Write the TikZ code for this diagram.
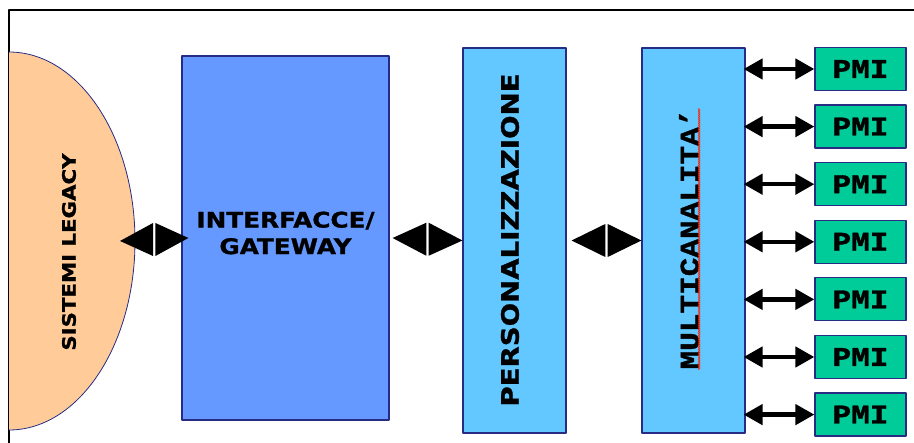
\documentclass[tikz,border=0pt]{standalone}
\usepackage{fontspec}
\usetikzlibrary{arrows.meta,calc,decorations.pathmorphing}
\newfontfamily\verdana{DejaVu Sans}[FakeStretch=1.15,BoldFeatures={FakeBold=1.2}]
\newfontfamily\consolle{Liberation Mono}[FakeStretch=1.15,BoldFeatures={FakeBold=1.2}]
\begin{document}
\begin{tikzpicture}[x=1pt,y=-1pt,line join=round]
		%\draw[gray!30] (0,0) grid[step=50] (914,443);
		\definecolor{pesca}{RGB}{255,204,153}
		\definecolor{bluastro}{RGB}{102,153,255}
		\definecolor{celeste}{RGB}{99,200,255}
		\definecolor{verdeacqua}{RGB}{0,204,153}
		\definecolor{bordo}{RGB}{38,44,132}
		\tikzset{
			blocco/.style={draw=bordo,line width=1.2pt,inner sep=0pt},
			scritta/.style={font=\verdana\bfseries\fontsize{#1}{#1}\selectfont,inner sep=0pt},
			piccola/.style={{Triangle[length=19pt,width=20pt]}-{Triangle[length=19pt,width=20pt]},line width=4.5pt,shorten <=-2pt},
			pmi/.style={blocco,fill=verdeacqua,minimum width=91pt,minimum height=43pt,
				font=\consolle\bfseries\fontsize{27}{27}\selectfont}
		}
		% doppia freccia grossa, spezzata a meta'
		\def\freccia#1#2{
			\fill (#1)--($(#1)!.5!(#2)+(-1.2,16.5)$)--($(#1)!.5!(#2)+(-1.2,-16.5)$)--cycle;
			\fill (#2)--($(#1)!.5!(#2)+(1.2,16.5)$)--($(#1)!.5!(#2)+(1.2,-16.5)$)--cycle;
		}
		\useasboundingbox (0,0) rectangle (914,443);
		\draw[line width=2.4pt] (9,443)--(9,10)--(914,10);
		
		% sistemi legacy
		\draw[bordo,fill=pesca,line width=.8pt] (9,52) arc[start angle=-90,end angle=90,x radius=126,y radius=189];
		\coordinate (legacy) at (135,241);
		\node[scritta=18.5,rotate=90] (sistemi) at (69,252) {SISTEMI LEGACY};
		
		\node[blocco,fill=bluastro,minimum width=207pt,minimum height=364pt] (iface) at (285.5,238) {};
		\node[scritta=21.5,align=center] (ifacetxt) at (285.5,233) {INTERFACCE/\\[5pt]GATEWAY};
		
		\node[blocco,fill=celeste,minimum width=103pt,minimum height=385pt] (persona) at (514.5,240.5) {};
		\node[scritta=24,rotate=90] (personatxt) at (510,240) {PERSONALIZZAZIONE};
		
		\node[blocco,fill=celeste,minimum width=103pt,minimum height=385pt] (multi) at (693.5,240.5) {};
		\node[font=\consolle\bfseries\fontsize{27}{27}\selectfont,inner sep=0pt,rotate=90] (multitxt) at (689,239) {MULTICANALITA’};
		\draw[red!75!orange,line width=.6pt,decorate,decoration={zigzag,segment length=2pt,amplitude=1pt}]
		(multitxt.south west)--(multitxt.south east);
		
		\coordinate (a1) at ([xshift=-15pt]legacy);
		\coordinate (b1) at ([xshift=7pt]iface.west);
		\coordinate (a2) at ([xshift=3pt]iface.east);
		\coordinate (b2) at (persona.west);
		\coordinate (a3) at ([xshift=5pt]persona.east);
		\coordinate (b3) at (multi.west);
		\freccia{a1}{b1}
		\freccia{a2}{b2}
		\freccia{a3}{b3}
		
		% PMI
		\node[pmi] (pmi1) at (860.5,69) {PMI};
		\node[pmi] (pmi2) at (860.5,126.6) {PMI};
		\node[pmi] (pmi3) at (860.5,184.2) {PMI};
		\node[pmi] (pmi4) at (860.5,241.8) {PMI};
		\node[pmi] (pmi5) at (860.5,299.4) {PMI};
		\node[pmi] (pmi6) at (860.5,357) {PMI};
		\node[pmi] (pmi7) at (860.5,414.6) {PMI};
		\draw[piccola] (multi.east|-pmi1.west)--(pmi1.west);
		\draw[piccola] (multi.east|-pmi2.west)--(pmi2.west);
		\draw[piccola] (multi.east|-pmi3.west)--(pmi3.west);
		\draw[piccola] (multi.east|-pmi4.west)--(pmi4.west);
		\draw[piccola] (multi.east|-pmi5.west)--(pmi5.west);
		\draw[piccola] (multi.east|-pmi6.west)--(pmi6.west);
		\draw[piccola] (multi.east|-pmi7.west)--(pmi7.west);
	\end{tikzpicture}
\end{document}
